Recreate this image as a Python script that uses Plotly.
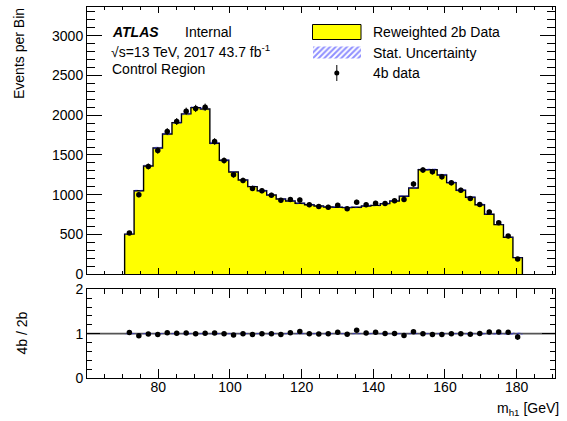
import numpy as np
import plotly.graph_objects as go

# m_h1 binning [GeV]
bin_low, bin_high, n_bins = 70.6, 181.6, 42

# Reweighted 2b data (events per bin)
bkg_2b = [505, 1051, 1362, 1588, 1764, 1906, 2016, 2095, 2078, 1647,
          1433, 1286, 1186, 1102, 1051, 997, 947, 922, 893, 875,
          858, 846, 842, 838, 842, 859, 867, 888, 922, 981,
          1085, 1315, 1315, 1249, 1152, 1056, 968, 875, 754, 624,
          465, 209]
# Statistical uncertainty on the reweighted 2b prediction
bkg_2b_err = [8, 12, 14, 15, 16, 17, 18, 18, 18, 16,
              15, 14, 13, 13, 12, 12, 12, 11, 11, 11,
              11, 11, 11, 11, 11, 11, 11, 11, 11, 12,
              13, 14, 14, 14, 13, 13, 12, 11, 10, 9,
              8, 6]
# 4b data (events per bin)
data_4b = [518, 1000, 1355, 1555, 1795, 1920, 2050, 2085, 2100, 1670,
           1430, 1250, 1180, 1080, 1050, 993, 930, 940, 934, 873,
           853, 844, 867, 825, 907, 873, 893, 890, 925, 940,
           1134, 1310, 1290, 1225, 1150, 1056, 953, 876, 783, 647,
           480, 193]

x_tick_vals = [80, 100, 120, 140, 160, 180]
y_main_ticks = [0, 500, 1000, 1500, 2000, 2500, 3000]
y_ratio_ticks = [0, 1, 2]

edges = np.linspace(bin_low, bin_high, n_bins + 1)
centers = 0.5 * (edges[:-1] + edges[1:])
bkg = np.array(bkg_2b, dtype=float)
bkg_err = np.array(bkg_2b_err, dtype=float)
data = np.array(data_4b, dtype=float)
data_err = np.sqrt(data)
ratio = data / bkg
ratio_err = data_err / bkg
rel_err = bkg_err / bkg


def step_xy(vals):
    xs = np.repeat(edges, 2)[1:-1]
    ys = np.repeat(vals, 2)
    return xs, ys


FONT = "Liberation Sans, Arial, Helvetica, sans-serif"
YELLOW = "#ffff00"
HATCH_BLUE = "#1f1fff"
HATCH = dict(shape="/", fgcolor=HATCH_BLUE, bgcolor="rgba(0,0,0,0)",
             size=4, solidity=0.5)

# page geometry (pixels)
L, R, T, B = 87, 12, 7, 43
W, H = 567, 421
pw, ph = W - L - R, H - T - B
MAIN_BOTTOM_PX, RATIO_TOP_PX = 274.3, 289.3


def px(xp):
    return (xp - L) / pw


def py(yp):
    return (H - B - yp) / ph


fig = go.Figure()

# --- main panel: 2b histogram -------------------------------------------
sx, sy = step_xy(bkg)
fig.add_trace(go.Scatter(
    x=np.concatenate([[edges[0]], sx, [edges[-1]]]),
    y=np.concatenate([[0], sy, [0]]),
    mode="lines", fill="toself", fillcolor=YELLOW,
    line=dict(color="black", width=1.4),
    xaxis="x", yaxis="y", hoverinfo="skip", showlegend=False))

# stat. uncertainty band (hatched)
ux, uy = step_xy(bkg + bkg_err)
lx, ly = step_xy(bkg - bkg_err)
fig.add_trace(go.Scatter(
    x=np.concatenate([ux, lx[::-1]]), y=np.concatenate([uy, ly[::-1]]),
    mode="lines", fill="toself", line=dict(width=0),
    fillcolor="rgba(0,0,0,0)", fillpattern=HATCH,
    xaxis="x", yaxis="y", hoverinfo="skip", showlegend=False))

# 4b data points
fig.add_trace(go.Scatter(
    x=centers, y=data, mode="markers",
    marker=dict(color="black", size=5.5),
    error_y=dict(type="data", array=data_err, color="black",
                 thickness=1, width=0),
    xaxis="x", yaxis="y", showlegend=False))

# --- ratio panel -----------------------------------------------------------
rux, ruy = step_xy(1 + rel_err)
rlx, rly = step_xy(1 - rel_err)
fig.add_trace(go.Scatter(
    x=np.concatenate([rux, rlx[::-1]]), y=np.concatenate([ruy, rly[::-1]]),
    mode="lines", fill="toself", line=dict(width=0),
    fillcolor="rgba(0,0,0,0)", fillpattern=HATCH,
    xaxis="x2", yaxis="y2", hoverinfo="skip", showlegend=False))

fig.add_trace(go.Scatter(
    x=centers, y=ratio, mode="markers",
    marker=dict(color="black", size=5.5),
    error_y=dict(type="data", array=ratio_err, color="black",
                 thickness=1, width=0),
    xaxis="x2", yaxis="y2", showlegend=False))

# --- legend symbols, on a pixel-scaled overlay of the main panel ---------
fig.add_trace(go.Scatter(
    x=[312.5, 361, 361, 312.5, 312.5], y=[24.5, 24.5, 39.5, 39.5, 24.5],
    mode="lines", fill="toself", fillcolor=YELLOW,
    line=dict(color="black", width=1),
    xaxis="x3", yaxis="y3", hoverinfo="skip", showlegend=False))
fig.add_trace(go.Scatter(
    x=[313, 361, 361, 313, 313], y=[46.5, 46.5, 58.5, 58.5, 46.5],
    mode="lines", fill="toself", line=dict(width=0),
    fillcolor="rgba(0,0,0,0)", fillpattern=HATCH,
    xaxis="x3", yaxis="y3", hoverinfo="skip", showlegend=False))
fig.add_trace(go.Scatter(
    x=[336.8], y=[73], mode="markers",
    marker=dict(color="black", size=5),
    error_y=dict(type="constant", value=8, color="black", thickness=1, width=0),
    xaxis="x3", yaxis="y3", hoverinfo="skip", showlegend=False))

legend_text = [("Reweighted 2b Data", 32), ("Stat. Uncertainty", 52.5),
               ("4b data", 73)]
annotations = []
for txt, yy in legend_text:
    annotations.append(dict(x=370.5, y=yy, xref="x3", yref="y3", text=txt,
                            showarrow=False, xanchor="left", yanchor="middle",
                            font=dict(family=FONT, size=14, color="black")))

# ATLAS label block
annotations += [
    dict(x=110, y=32, xref="x3", yref="y3",
         text="<b><i>ATLAS</i></b>", showarrow=False,
         xanchor="left", yanchor="middle",
         font=dict(family=FONT, size=14, color="black")),
    dict(x=183, y=32, xref="x3", yref="y3", text="Internal",
         showarrow=False, xanchor="left", yanchor="middle",
         font=dict(family=FONT, size=14, color="black")),
    dict(x=109, y=51, xref="x3", yref="y3",
         text="\u221as=13 TeV, 2017 43.7 fb<sup>-1</sup>",
         showarrow=False, xanchor="left", yanchor="middle",
         font=dict(family=FONT, size=14, color="black")),
    dict(x=110, y=69, xref="x3", yref="y3", text="Control Region",
         showarrow=False, xanchor="left", yanchor="middle",
         font=dict(family=FONT, size=14, color="black")),
]

# axis titles (ROOT style placement)
annotations += [
    dict(x=px(18.5), y=py(6), xref="paper", yref="paper",
         text="Events per Bin", textangle=-90, showarrow=False,
         xanchor="center", yanchor="top",
         font=dict(family=FONT, size=14, color="black")),
    dict(x=px(21), y=py(333.5), xref="paper", yref="paper",
         text="4b / 2b", textangle=-90, showarrow=False,
         xanchor="center", yanchor="middle",
         font=dict(family=FONT, size=14, color="black")),
    dict(x=px(561), y=py(409), xref="paper", yref="paper",
         text="m<sub>h1</sub> [GeV]", showarrow=False,
         xanchor="right", yanchor="middle",
         font=dict(family=FONT, size=14, color="black")),
]

main_bottom = py(MAIN_BOTTOM_PX)
ratio_top = py(RATIO_TOP_PX)
x_range = [60.1, 190.7]

axis_common = dict(showline=True, linecolor="black", linewidth=1,
                   mirror="allticks", ticks="inside", tickcolor="black",
                   showgrid=False, zeroline=False, automargin=False,
                   tickfont=dict(family=FONT, size=14, color="black"))

fig.update_layout(
    width=W, height=H,
    margin=dict(l=L, r=R, t=T, b=B, pad=0, autoexpand=False),
    paper_bgcolor="white", plot_bgcolor="white",
    showlegend=False,
    font=dict(family=FONT, size=14, color="black"),
    xaxis=dict(domain=[0, 1], anchor="y", range=x_range,
               tickvals=x_tick_vals, showticklabels=False, ticklen=6,
               minor=dict(dtick=5, tick0=60, ticklen=3, ticks="inside",
                          tickcolor="black"),
               **axis_common),
    yaxis=dict(domain=[main_bottom, 1], anchor="x", range=[0, 3360],
               tickvals=y_main_ticks, ticklen=15,
               minor=dict(dtick=100, tick0=0, ticklen=8, ticks="inside",
                          tickcolor="black"),
               **axis_common),
    xaxis2=dict(domain=[0, 1], anchor="y2", range=x_range,
                tickvals=x_tick_vals, ticklen=9, ticklabelstandoff=-4,
                minor=dict(dtick=5, tick0=60, ticklen=4.5, ticks="inside",
                           tickcolor="black"),
                **axis_common),
    yaxis2=dict(domain=[0, ratio_top], anchor="x2", range=[0, 2],
                tickvals=y_ratio_ticks, ticklen=13,
                minor=dict(dtick=0.2, tick0=0, ticklen=5, ticks="inside",
                           tickcolor="black"),
                **axis_common),
    xaxis3=dict(anchor="y3", range=[L, W - R], visible=False,
                overlaying="x"),
    yaxis3=dict(anchor="x3", range=[MAIN_BOTTOM_PX, T], visible=False,
                overlaying="y"),
    annotations=annotations,
    shapes=[dict(type="line", xref="x2 domain", yref="y2",
                 x0=0, x1=1, y0=1, y1=1,
                 line=dict(color="#555555", width=1.6), layer="below")],
)

fig.write_html("out.html")
